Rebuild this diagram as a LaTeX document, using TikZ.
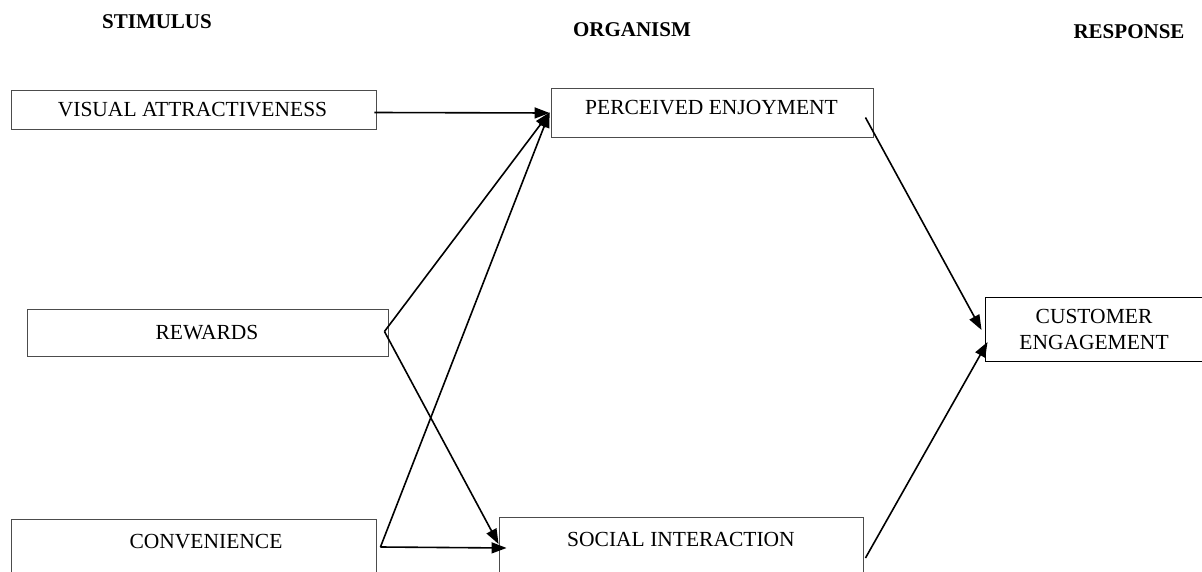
\documentclass[tikz,border=0pt]{standalone}
\usepackage{fontspec}
\setmainfont{Liberation Serif}
\usetikzlibrary{arrows.meta,calc}
\begin{document}
\begin{tikzpicture}[x=1pt,y=-1pt,
  box/.style={draw=black!70, line width=0.9pt, rectangle, inner sep=0pt},
  txt/.style={font=\fontsize{21.5}{26}\selectfont, inner sep=0pt, align=center},
  hdr/.style={font=\bfseries\fontsize{21}{24}\selectfont, inner sep=0pt},
  conn/.style={line width=1.6pt, -{Triangle[length=15pt,width=11pt]}}]
\clip (0,0) rectangle (1202,572);
\useasboundingbox (0,0) rectangle (1202,572);
% headers
\node[hdr] (h1) at (157,22) {STIMULUS};
\node[hdr] (h2) at (632,30) {ORGANISM};
\node[hdr] (h3) at (1129,32) {RESPONSE};
% boxes
\node[box, minimum width=365pt, minimum height=39pt] (va) at (193.5,109.5) {};
\node[box, minimum width=322pt, minimum height=49pt] (pe) at (712,112.5) {};
\node[box, minimum width=361pt, minimum height=47pt] (rw) at (207.5,332.5) {};
\node[box, minimum width=365pt, minimum height=70pt] (cv) at (193.5,554) {};
\node[box, minimum width=364pt, minimum height=70pt] (si) at (681,552) {};
\node[box, draw=black, minimum width=230pt, minimum height=64pt] (ce) at (1100,329) {};
% texts
\node[txt] (vat) at (192.5,110) {VISUAL ATTRACTIVENESS};
\node[txt] (pet) at (711.5,107.5) {PERCEIVED ENJOYMENT};
\node[txt] (rwt) at (207,333) {REWARDS};
\node[txt] (cvt) at (206,542) {CONVENIENCE};
\node[txt] (sit) at (681,539) {SOCIAL INTERACTION};
\node[txt] (cet) at (1094,329) {CUSTOMER\\ENGAGEMENT};
% connector end points
\coordinate (peIn) at ($(pe.west)+(-1,0)$);
\coordinate (vaOut) at ($(va.east)+(-2,3)$);
\coordinate (peInH) at ($(pe.west)+(-1,0.5)$);
\coordinate (rwOut) at ($(rw.east)+(-4,-1)$);
\coordinate (cvOut) at ($(cv.east)+(4,-7)$);
\coordinate (siInA) at ($(si.west)+(0,-8)$);
\coordinate (siInB) at ($(si.west)+(8,-4)$);
\coordinate (peOut) at ($(pe.east)+(-8,5)$);
\coordinate (siOut) at ($(si.east)+(2,6)$);
\coordinate (ceInA) at ($(ce.west)+(-3,1)$);
\coordinate (ceInB) at ($(ce.west)+(3,13)$);
% connectors
\draw[conn] (vaOut) -- (peInH);
\draw[conn] (rwOut) -- (peIn);
\draw[conn] (cvOut) -- (peIn);
\draw[conn] (rwOut) -- (siInA);
\draw[conn] (cvOut) -- (siInB);
\draw[conn] (peOut) -- (ceInA);
\draw[conn] (siOut) -- (ceInB);
\end{tikzpicture}
\end{document}
